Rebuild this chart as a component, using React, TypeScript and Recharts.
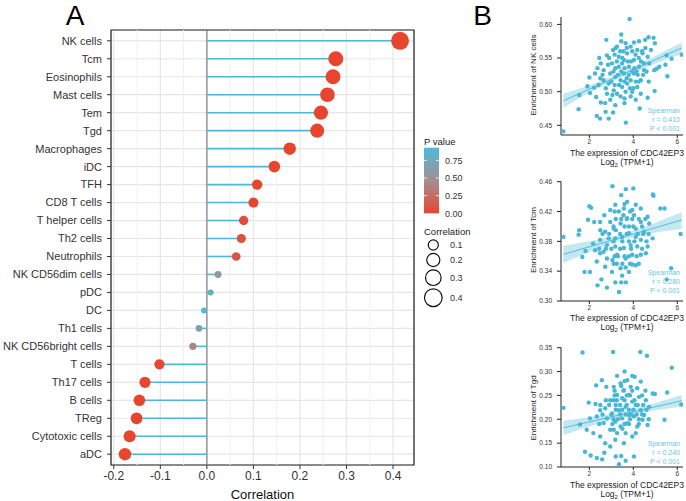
import React from "react";
import {
  ScatterChart,
  ComposedChart,
  Scatter,
  ErrorBar,
  Line,
  Area,
  XAxis,
  YAxis,
  CartesianGrid,
  ReferenceLine,
  ReferenceArea,
} from "recharts";

// ---- panel A data ----
const cells = [
  "NK cells", "Tcm", "Eosinophils", "Mast cells", "Tem", "Tgd", "Macrophages", "iDC",
  "TFH", "CD8 T cells", "T helper cells", "Th2 cells", "Neutrophils", "NK CD56dim cells",
  "pDC", "DC", "Th1 cells", "NK CD56bright cells", "T cells", "Th17 cells", "B cells",
  "TReg", "Cytotoxic cells", "aDC",
];
const correlation = [
  0.415, 0.277, 0.271, 0.259, 0.245, 0.237, 0.178, 0.145, 0.108, 0.1, 0.079, 0.074,
  0.063, 0.024, 0.008, -0.006, -0.017, -0.03, -0.102, -0.133, -0.145, -0.151, -0.166, -0.176,
];
const pValue = [
  0, 0, 0, 0, 0, 0, 0, 0, 0.002, 0.004, 0.06, 0.07, 0.11, 0.56, 0.82, 0.9, 0.66, 0.4,
  0.01, 0, 0, 0, 0, 0,
];
const corTicks = [-0.2, -0.1, 0, 0.1, 0.2, 0.3, 0.4];
const corMinor = [-0.15, -0.05, 0.05, 0.15, 0.25, 0.35];
const pLegend = [0.75, 0.5, 0.25, 0];
const sizeLegend = [0.1, 0.2, 0.3, 0.4];

// ---- panel B data: [expression, enrichment] ----
const nkPoints: [number, number][] = [
  [0.82,0.441],[3.83,0.608],[3.45,0.585],[2.77,0.577],[4.69,0.581],[4.92,0.58],[4.54,0.577],[4.98,0.572],
  [4.03,0.573],[4.26,0.575],[5.51,0.554],[6.2,0.555],[5.74,0.549],[5.46,0.54],[5.55,0.523],[5.06,0.534],
  [4.97,0.501],[4.29,0.475],[4.65,0.491],[3.66,0.454],[1.51,0.474],[1.54,0.495],[1.91,0.508],[2.22,0.506],
  [2.34,0.464],[2.49,0.46],[2.74,0.47],[3.08,0.469],[2.88,0.46],[2.72,0.483],[2.52,0.484],[2.31,0.492],
  [2.03,0.498],[2.95,0.488],[3.18,0.48],[3.42,0.493],[3.6,0.483],[3.88,0.493],[4.11,0.488],[2.0,0.521],
  [2.37,0.535],[2.52,0.542],[2.8,0.554],[3.08,0.562],[3.26,0.567],[3.65,0.572],[3.88,0.567],[4.18,0.562],
  [4.42,0.557],[4.65,0.552],[4.72,0.542],[4.49,0.532],[4.34,0.517],[4.18,0.507],[3.95,0.5],[3.72,0.512],
  [3.42,0.517],[3.18,0.522],[2.95,0.527],[3.34,0.537],[3.57,0.547],[3.8,0.537],[4.03,0.527],[3.49,0.507],
  [3.11,0.502],[2.88,0.512],[2.65,0.517],[2.42,0.51],[2.26,0.527],[2.65,0.532],[3.03,0.542],[3.34,0.552],
  [3.72,0.557],[4.03,0.547],[4.26,0.537],[4.49,0.542],[4.8,0.562],[4.95,0.532],[5.18,0.537],[4.34,0.497],
  [3.26,0.497],[2.8,0.497],[3.57,0.527],[3.88,0.517],[4.11,0.515],[3.18,0.535],[3.49,0.542],[3.3,0.525],
  [3.6,0.535],[3.9,0.545],[4.1,0.555],[3.7,0.52],[3.45,0.53],[3.95,0.53],[4.2,0.525],[3.0,0.515],
  [3.75,0.545],[3.55,0.56],[4.35,0.545],[2.85,0.54],[4.0,0.505],[3.35,0.51],
  [2.9,0.55],[3.1,0.53],[3.25,0.545],[3.4,0.56],[3.6,0.515],[3.8,0.525],[4.05,0.535],[4.25,0.55],
  [4.45,0.525],[3.15,0.51],[3.5,0.55],[3.7,0.565],[3.95,0.56],[4.15,0.53],[4.4,0.56],[2.6,0.525],
  [2.75,0.505],[3.05,0.495],[3.65,0.5],[4.25,0.515],[3.85,0.505],[4.6,0.53],[4.7,0.515],[2.5,0.52],
  [3.2,0.565],[3.45,0.575],[3.15,0.555],[4.55,0.565],[2.45,0.55],[3.6,0.49],
];
const tcmPoints: [number, number][] = [
  [0.82,0.386],[1.54,0.395],[1.51,0.389],[2.0,0.427],[2.08,0.425],[3.05,0.454],[3.45,0.442],[3.66,0.45],
  [4.0,0.451],[4.89,0.443],[4.92,0.441],[5.23,0.424],[5.42,0.424],[6.15,0.39],[5.72,0.344],[5.52,0.329],
  [3.35,0.312],[3.18,0.325],[3.45,0.325],[3.66,0.325],[2.37,0.321],[2.8,0.318],[2.55,0.329],[1.78,0.339],
  [2.03,0.339],[1.68,0.359],[1.83,0.367],[2.17,0.377],[1.94,0.409],[2.22,0.406],[2.49,0.406],[2.68,0.415],
  [2.95,0.422],[3.18,0.429],[3.72,0.433],[4.11,0.429],[4.34,0.424],[4.65,0.413],[4.72,0.404],[4.49,0.393],
  [4.88,0.384],[4.65,0.373],[4.34,0.362],[4.11,0.348],[3.8,0.339],[3.42,0.344],[3.11,0.35],[2.8,0.357],
  [2.49,0.364],[2.34,0.353],[2.72,0.346],[3.03,0.339],[3.26,0.362],[3.65,0.357],[3.95,0.362],[4.18,0.373],
  [3.88,0.375],[3.57,0.371],[3.18,0.373],[2.8,0.375],[2.49,0.382],[2.72,0.393],[3.11,0.397],[3.42,0.404],
  [3.72,0.411],[4.03,0.415],[4.34,0.406],[4.11,0.397],[3.8,0.391],[3.49,0.386],[3.18,0.384],[2.88,0.384],
  [3.34,0.42],[3.57,0.424],[3.95,0.422],[2.95,0.406],[4.34,0.382],[4.57,0.364],[3.95,0.349],[3.49,0.334],
  [2.65,0.366],[2.26,0.368],[4.11,0.386],[3.8,0.4],[3.5,0.38],[3.7,0.39],[3.9,0.37],[3.3,0.36],
  [3.6,0.4],[4.0,0.4],[3.4,0.39],[3.8,0.36],[3.2,0.41],[4.2,0.39],[3.0,0.37],[3.55,0.415],
  [3.85,0.42],[4.4,0.4],[3.1,0.38],
  [2.9,0.39],[3.1,0.4],[3.25,0.35],[3.4,0.37],[3.6,0.36],[3.8,0.38],[4.05,0.38],[4.25,0.41],
  [4.45,0.39],[3.15,0.36],[3.5,0.35],[3.7,0.41],[3.95,0.41],[4.15,0.36],[4.4,0.37],[2.6,0.39],
  [2.75,0.37],[3.05,0.355],[3.65,0.345],[4.25,0.35],[3.85,0.35],[4.6,0.38],[4.7,0.39],[2.5,0.395],
  [3.2,0.395],[3.45,0.41],[3.15,0.42],[4.55,0.41],[2.45,0.37],[3.6,0.43],
];
const tgdPoints: [number, number][] = [
  [0.82,0.224],[1.69,0.34],[3.08,0.341],[4.32,0.341],[4.62,0.333],[5.75,0.308],[6.18,0.231],[5.54,0.256],
  [5.42,0.199],[1.57,0.189],[1.8,0.132],[2.06,0.124],[2.34,0.119],[2.58,0.116],[3.2,0.122],[3.45,0.123],
  [3.35,0.106],[3.65,0.113],[4.03,0.122],[2.68,0.13],[1.97,0.235],[2.28,0.232],[2.31,0.271],[2.57,0.282],
  [2.77,0.268],[3.26,0.291],[3.6,0.3],[3.95,0.291],[4.06,0.289],[4.34,0.279],[4.88,0.254],[4.98,0.253],
  [4.72,0.226],[4.49,0.209],[4.18,0.185],[3.95,0.164],[3.57,0.15],[3.18,0.157],[2.95,0.178],[2.65,0.192],
  [2.34,0.206],[2.03,0.202],[1.88,0.178],[2.18,0.171],[2.49,0.164],[2.72,0.15],[3.11,0.178],[3.42,0.185],
  [3.72,0.192],[4.03,0.206],[4.34,0.219],[4.57,0.24],[4.26,0.247],[3.95,0.237],[3.65,0.226],[3.34,0.219],
  [3.03,0.212],[2.72,0.223],[2.49,0.219],[2.95,0.24],[3.26,0.251],[3.57,0.261],[3.88,0.268],[4.18,0.265],
  [3.11,0.268],[3.42,0.275],[3.72,0.282],[3.49,0.244],[3.8,0.251],[4.11,0.23],[4.42,0.199],[4.65,0.188],
  [3.8,0.209],[3.49,0.202],[3.18,0.195],[2.8,0.202],[3.26,0.171],[3.65,0.171],[4.11,0.171],[2.95,0.143],
  [3.5,0.22],[3.7,0.23],[3.9,0.21],[3.3,0.2],[3.6,0.24],[4.0,0.22],[3.4,0.23],[3.8,0.19],
  [3.2,0.22],[4.2,0.23],[3.0,0.21],[3.55,0.26],[3.85,0.25],[4.4,0.21],[3.1,0.24],
  [2.9,0.23],[3.1,0.2],[3.25,0.24],[3.4,0.21],[3.6,0.19],[3.8,0.22],[4.05,0.24],[4.25,0.2],
  [4.45,0.23],[3.15,0.26],[3.5,0.18],[3.7,0.25],[3.95,0.26],[4.15,0.21],[4.4,0.25],[2.6,0.21],
  [2.75,0.24],[3.05,0.19],[3.65,0.21],[4.25,0.19],[3.85,0.2],[4.6,0.22],[4.7,0.2],[2.5,0.23],
  [3.2,0.23],[3.45,0.27],[3.15,0.25],[4.55,0.26],[2.45,0.19],[3.6,0.28],
];
const fitX = [0.82, 6.2];
const nkFit = [0.4865, 0.565];
const tcmFit = [0.3626, 0.4086];
const tgdFit = [0.182, 0.239];
const bandX = [0.82, 2, 3.5, 5, 6.2];
const nkLow = [0.476, 0.499, 0.522, 0.542, 0.556];
const nkHigh = [0.497, 0.509, 0.529, 0.553, 0.573];
const tcmLow = [0.351, 0.366, 0.382, 0.392, 0.397];
const tcmHigh = [0.374, 0.38, 0.389, 0.405, 0.419];
const tgdLow = [0.167, 0.185, 0.206, 0.219, 0.227];
const tgdHigh = [0.197, 0.204, 0.215, 0.234, 0.251];
const exprTicks = [2, 4, 6];

// colour + size scales
const RED = [232, 69, 47];
const MID = [164, 142, 146];
const BLUE = [77, 186, 216];
const P_MAX = 0.93;
const pColor = (p: number) => {
  const t = Math.min(1, p / P_MAX);
  const [a, b, u] = t < 0.5 ? [RED, MID, t * 2] : [MID, BLUE, (t - 0.5) * 2];
  const c = a.map((v, i) => Math.round(v + (b[i] - v) * u));
  return `rgb(${c[0]},${c[1]},${c[2]})`;
};
const dotRadius = (v: number) => Math.sqrt(36 + 702 * Math.max(0, Math.abs(v) - 0.006)) / 2;

const FONT = '"Liberation Sans", Arial, Helvetica, sans-serif';
const STEM = "#4fb8da";
const SKY = "#48b6d5";

const rows = cells.map((name, i) => ({
  name,
  row: cells.length - 1 - i,
  value: correlation[i],
  p: pValue[i],
  stem: correlation[i] > 0 ? [correlation[i], 0] : [0, -correlation[i]],
}));

const LollipopDot = (props: any) => {
  const { cx, cy, payload } = props;
  return <circle cx={cx} cy={cy} r={dotRadius(payload.value)} fill={pColor(payload.p)} />;
};

// plain text tick so long names don't wrap
const CellTick = (props: any) => {
  const { x, y, payload } = props;
  return (
    <text x={x} y={y} dy={3.9} textAnchor="end" fontSize={11} fill="#333">
      {cells[cells.length - 1 - payload.value]}
    </text>
  );
};

const Lollipop = () => (
  <ScatterChart width={500} height={501} margin={{ top: 30, right: 86, bottom: 0, left: 0 }}>
    <CartesianGrid stroke="#e6e6e6" strokeWidth={1.2} fill="none" />
    {corMinor.map((v) => (
      <ReferenceLine key={v} x={v} stroke="#f0f0f0" strokeWidth={1} />
    ))}
    <XAxis
      type="number"
      dataKey="value"
      domain={[-0.206, 0.445]}
      ticks={corTicks}
      allowDataOverflow
      tickFormatter={(v: number) => v.toFixed(1)}
      height={36}
      axisLine={false}
      tickSize={4}
      tickMargin={2}
      tick={{ fill: "#333", fontSize: 12 }}
      tickLine={{ stroke: "#333" }}
      label={{ value: "Correlation", position: "insideBottom", offset: 2, fill: "#111", fontSize: 13 }}
    />
    <YAxis
      type="number"
      dataKey="row"
      domain={[-0.6, cells.length - 0.4]}
      ticks={rows.map((r) => r.row)}
      interval={0}
      allowDataOverflow
      width={111}
      axisLine={false}
      tickSize={4}
      tickMargin={5}
      tick={CellTick}
      tickLine={{ stroke: "#333" }}
    />
    <ReferenceLine x={0} stroke="#808080" strokeWidth={1.2} />
    <Scatter data={rows} shape={LollipopDot} isAnimationActive={false}>
      <ErrorBar dataKey="stem" direction="x" width={0} stroke={STEM} strokeWidth={1.6} />
    </Scatter>
    <ReferenceArea
      x1={-0.206}
      x2={0.445}
      y1={-0.6}
      y2={cells.length - 0.4}
      fill="none"
      stroke="#222"
      strokeWidth={1.2}
      fillOpacity={0}
    />
  </ScatterChart>
);

const SmallDot = (props: any) => <circle cx={props.cx} cy={props.cy} r={2.2} fill={SKY} />;

interface PanelProps {
  top: number;
  height: number;
  marginTop: number;
  points: [number, number][];
  fit: number[];
  low: number[];
  high: number[];
  yDomain: [number, number];
  yTicks: number[];
}

const CorrPanel = ({ top, height, marginTop, points, fit, low, high, yDomain, yTicks }: PanelProps) => {
  const pts = points.map(([x, y]) => ({ x, y }));
  const fitData = fitX.map((x, i) => ({ x, y: fit[i] }));
  const band = bandX.map((x, i) => ({ x, range: [low[i], high[i]] }));
  return (
    <div style={{ position: "absolute", left: 520, top }}>
      <ComposedChart width={166} height={height} margin={{ top: marginTop, right: 3, bottom: 0, left: 0 }}>
        <XAxis
          type="number"
          dataKey="x"
          domain={[0.71, 6.26]}
          ticks={exprTicks}
          allowDataOverflow
          height={14}
          tickSize={3}
          tickMargin={1}
          axisLine={{ stroke: "#222" }}
          tickLine={{ stroke: "#222" }}
          tick={{ fill: "#333", fontSize: 6.5 }}
        />
        <YAxis
          type="number"
          dataKey="y"
          domain={yDomain}
          ticks={yTicks}
          allowDataOverflow
          width={41}
          tickSize={4}
          tickMargin={5}
          tickFormatter={(v: number) => v.toFixed(2)}
          axisLine={{ stroke: "#222" }}
          tickLine={{ stroke: "#222" }}
          tick={{ fill: "#333", fontSize: 6.5 }}
        />
        <Scatter data={pts} dataKey="y" shape={SmallDot} isAnimationActive={false} />
        <Area
          data={band}
          dataKey="range"
          stroke="none"
          fill="#7ccbe3"
          fillOpacity={0.45}
          isAnimationActive={false}
        />
        <Line data={fitData} dataKey="y" stroke="#55bbd9" strokeWidth={1} dot={false} isAnimationActive={false} />
      </ComposedChart>
    </div>
  );
};

const panelsB = [
  { label: "Enrichment of NK cells", r: "0.410", xTitle: 153, yMid: 75, spear: 110 },
  { label: "Enrichment of Tcm", r: "0.280", xTitle: 318, yMid: 240, spear: 272 },
  { label: "Enrichment of Tgd", r: "0.240", xTitle: 485, yMid: 408, spear: 443 },
];

const Overlay = () => {
  const barTop = 147.7;
  const barBottom = 213.3;
  const py = (p: number) => barBottom - (p / P_MAX) * (barBottom - barTop);
  const sizeY = [245, 260, 277.7, 297.7];
  return (
    <svg
      width={686}
      height={501}
      style={{ position: "absolute", left: 0, top: 0, pointerEvents: "none", fontFamily: FONT }}
    >
      <text x={75} y={25} fontSize={28} textAnchor="middle" fill="#000">A</text>
      <text x={482.5} y={25} fontSize={28} textAnchor="middle" fill="#000">B</text>

      <defs>
        <linearGradient id="pgrad" x1="0" y1="1" x2="0" y2="0">
          {[0, 0.25, 0.5, 0.75, 1].map((o) => (
            <stop key={o} offset={o} stopColor={pColor(o * P_MAX)} />
          ))}
        </linearGradient>
      </defs>
      <text x={424} y={145} fontSize={9.5} fill="#222">P value</text>
      <rect x={424} y={barTop} width={15} height={barBottom - barTop} fill="url(#pgrad)" />
      {pLegend.map((p) => (
        <g key={p}>
          {p > 0 && p < P_MAX && (
            <>
              <line x1={424} x2={427} y1={py(p)} y2={py(p)} stroke="#fff" strokeWidth={0.8} />
              <line x1={436} x2={439} y1={py(p)} y2={py(p)} stroke="#fff" strokeWidth={0.8} />
            </>
          )}
          <text x={445} y={py(p) + 3.2} fontSize={9} fill="#333">{p.toFixed(2)}</text>
        </g>
      ))}
      <text x={424} y={235} fontSize={9.5} fill="#222">Correlation</text>
      {sizeLegend.map((v, i) => (
        <g key={v}>
          <circle cx={433.3} cy={sizeY[i]} r={dotRadius(v)} fill="none" stroke="#111" strokeWidth={1.2} />
          <text x={450} y={sizeY[i] + 3.2} fontSize={9} fill="#333">{v.toFixed(1)}</text>
        </g>
      ))}

      {panelsB.map((pb) => (
        <g key={pb.label}>
          <text
            x={533}
            y={pb.yMid}
            fontSize={8}
            fill="#222"
            textAnchor="middle"
            dominantBaseline="central"
            transform={`rotate(-90 533 ${pb.yMid})`}
          >
            {pb.label}
          </text>
          <text x={627} y={pb.xTitle + 3} fontSize={8.5} fill="#222" textAnchor="middle">
            The expression of CDC42EP3
          </text>
          <text x={627} y={pb.xTitle + 12} fontSize={8.5} fill="#222" textAnchor="middle">
            Log<tspan fontSize={6} dy={2}>2</tspan><tspan dy={-2}> (TPM+1)</tspan>
          </text>
          <g fill="#6cc5e0" fontSize={7} textAnchor="end">
            <text x={680} y={pb.spear + 2.5}>Spearman</text>
            <text x={680} y={pb.spear + 11.5}>r = {pb.r}</text>
            <text x={680} y={pb.spear + 20.5}>P &lt; 0.001</text>
          </g>
        </g>
      ))}
    </svg>
  );
};

export default function App() {
  return (
    <div
      style={{
        position: "absolute",
        left: 0,
        top: 0,
        width: 686,
        height: 501,
        background: "#fff",
        fontFamily: FONT,
        overflow: "hidden",
      }}
    >
      <div style={{ position: "absolute", left: 0, top: 0 }}>
        <Lollipop />
      </div>
      <CorrPanel
        top={0}
        height={149}
        marginTop={17}
        points={nkPoints}
        fit={nkFit}
        low={nkLow}
        high={nkHigh}
        yDomain={[0.4356, 0.611]}
        yTicks={[0.45, 0.5, 0.55, 0.6]}
      />
      <CorrPanel
        top={165}
        height={150}
        marginTop={16.7}
        points={tcmPoints}
        fit={tcmFit}
        low={tcmLow}
        high={tcmHigh}
        yDomain={[0.3, 0.46]}
        yTicks={[0.3, 0.34, 0.38, 0.42, 0.46]}
      />
      <CorrPanel
        top={330}
        height={151}
        marginTop={17.7}
        points={tgdPoints}
        fit={tgdFit}
        low={tgdLow}
        high={tgdHigh}
        yDomain={[0.1, 0.35]}
        yTicks={[0.1, 0.15, 0.2, 0.25, 0.3, 0.35]}
      />
      <Overlay />
    </div>
  );
}
